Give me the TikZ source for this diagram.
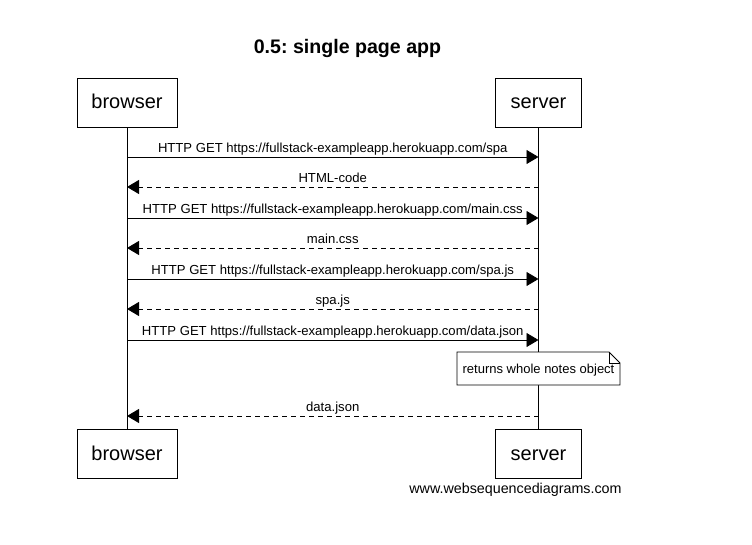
\documentclass[tikz,border=0pt]{standalone}
\usepackage{fontspec}
\setmainfont{Liberation Sans}
\usetikzlibrary{arrows.meta}
\frenchspacing
\begin{document}
\begin{tikzpicture}[x=1pt,y=-1pt,
  actor/.style={draw,line width=0.9pt,minimum width=100pt,minimum height=49pt,font=\fontsize{20}{22}\selectfont,inner sep=0pt,text height=16pt,text depth=3pt},
  msg/.style={line width=0.9pt,-{Triangle[length=12pt,width=14pt]}},
  reply/.style={msg,dash pattern=on 5pt off 4pt},
  lbl/.style={font=\fontsize{13.1}{15}\selectfont,inner sep=0pt,anchor=base},
  life/.style={line width=0.9pt}]
\useasboundingbox (0,0) rectangle (752,545);
\node[font=\bfseries\fontsize{19.6}{22}\selectfont,anchor=base] (title) at (347.5,53.5) {0.5: single page app};
\node[actor] (bt) at (127,102.5) {browser};
\node[actor,minimum width=86pt] (st) at (538.5,102.5) {server};
\node[actor] (bb) at (127,453.5) {browser};
\node[actor,minimum width=86pt] (sb) at (538.5,453.5) {server};
\draw[life] (bt.south) -- (bb.north);
\draw[life] (st.south) -- (sb.north);
% message end points on the lifelines
\foreach \n/\y in {1/157,2/187,3/218,4/248,5/279,6/309,7/340,8/416}{
  \coordinate (b\n) at (127,\y);
  \coordinate (s\n) at (538.5,\y);
}
\draw[msg] (b1) -- (s1) node[lbl,midway,yshift=4.5pt] (m1) {HTTP GET https://fullstack-exampleapp.herokuapp.com/spa};
\draw[reply] (s2) -- (b2) node[lbl,midway,yshift=4.5pt] (m2) {HTML-code};
\draw[msg] (b3) -- (s3) node[lbl,midway,yshift=4.5pt] (m3) {HTTP GET https://fullstack-exampleapp.herokuapp.com/main.css};
\draw[reply] (s4) -- (b4) node[lbl,midway,yshift=4.5pt] (m4) {main.css};
\draw[msg] (b5) -- (s5) node[lbl,midway,yshift=4.5pt] (m5) {HTTP GET https://fullstack-exampleapp.herokuapp.com/spa.js};
\draw[reply] (s6) -- (b6) node[lbl,midway,yshift=4.5pt] (m6) {spa.js};
\draw[msg] (b7) -- (s7) node[lbl,midway,yshift=4.5pt] (m7) {HTTP GET https://fullstack-exampleapp.herokuapp.com/data.json};
% note with folded corner
\draw[line width=0.9pt,fill=white] (457,352) -- (609,352) -- (620,363) -- (620,385) -- (457,385) -- cycle;
\draw[line width=0.7pt] (609,352) -- (609,363) -- (620,363);
\node[lbl,font=\fontsize{13}{15}\selectfont] (note) at (538.5,373.5) {returns whole notes object};
\draw[reply] (s8) -- (b8) node[lbl,midway,yshift=4.5pt] (m8) {data.json};
\node[font=\fontsize{14.3}{16}\selectfont,anchor=base] (foot) at (515.5,493) {www.websequencediagrams.com};
\end{tikzpicture}
\end{document}
